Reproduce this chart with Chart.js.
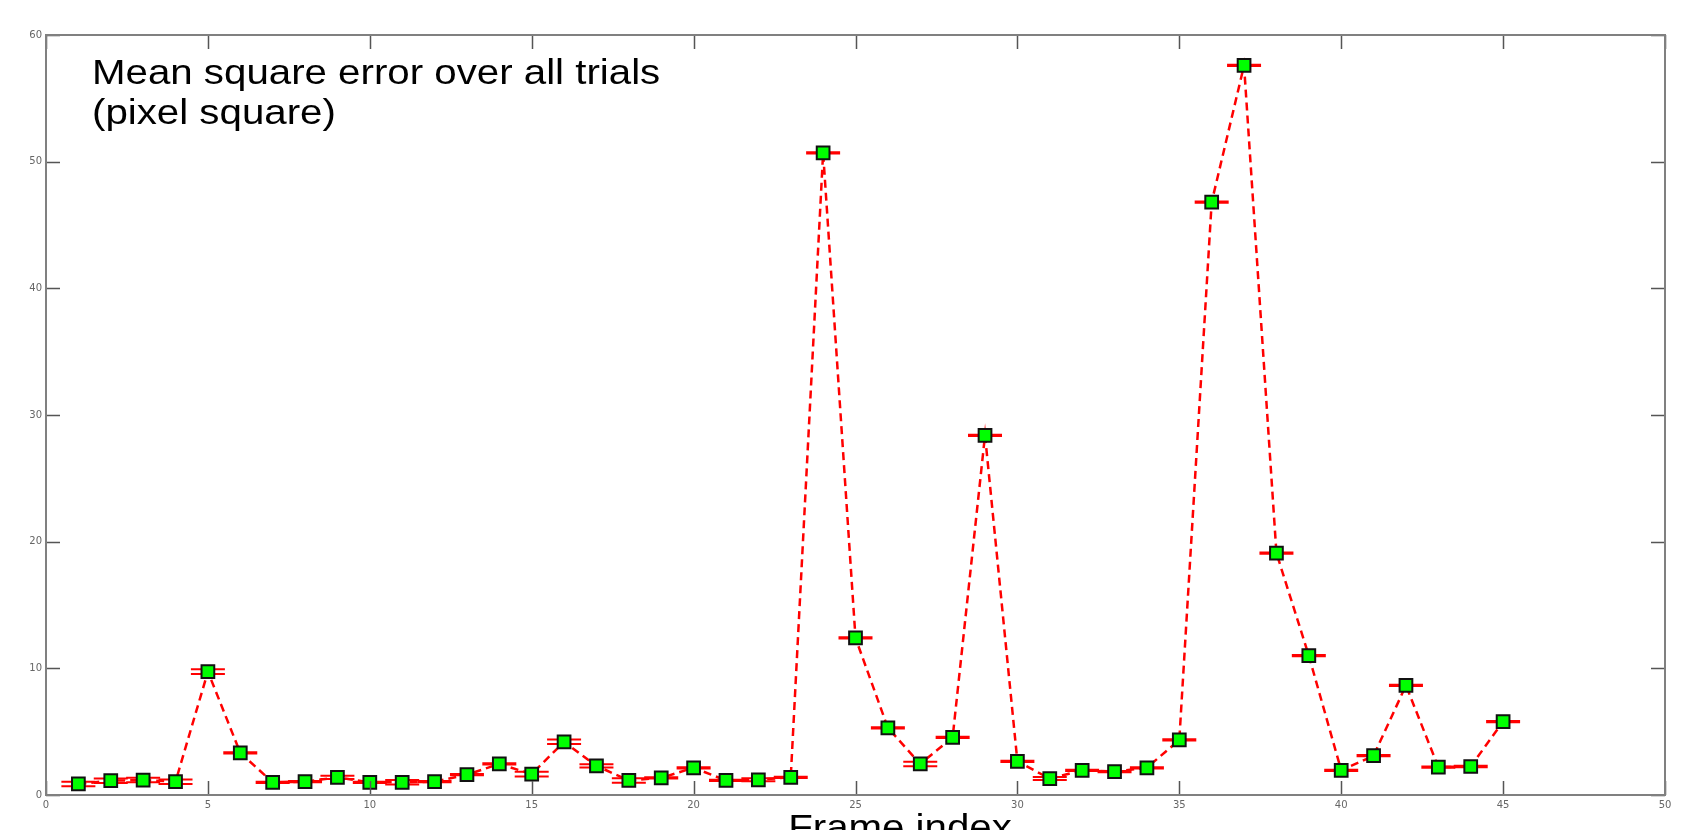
<!DOCTYPE html>
<html>
<head>
<meta charset="utf-8">
<script src="https://cdn.jsdelivr.net/npm/chart.js@4.4.1/dist/chart.umd.min.js"></script>
<style>
  html, body { margin: 0; padding: 0; background: #fff; }
  #wrap { width: 1697px; height: 830px; position: relative; }
</style>
</head>
<body>
<div id="wrap"><canvas id="chartCanvas"></canvas></div>
<script>
// --- data ---
const frames = [1, 2, 3, 4, 5, 6, 7, 8, 9, 10, 11, 12, 13, 14, 15, 16, 17, 18, 19, 20,
  21, 22, 23, 24, 25, 26, 27, 28, 29, 30, 31, 32, 33, 34, 35, 36, 37, 38, 39, 40,
  41, 42, 43, 44, 45];
const mse = [0.87, 1.13, 1.18, 1.05, 9.74, 3.33, 1.0, 1.05, 1.39, 1.0,
  1.0, 1.05, 1.6, 2.45, 1.65, 4.2, 2.3, 1.15, 1.35, 2.15,
  1.15, 1.2, 1.4, 50.7, 12.4, 5.3, 2.45, 4.55, 28.4, 2.65,
  1.3, 1.95, 1.85, 2.15, 4.35, 46.8, 57.6, 19.1, 11.0, 1.95,
  3.1, 8.65, 2.2, 2.25, 5.8];
// half-width of the error bar around each mean
const spread = [0.18, 0.18, 0.18, 0.18, 0.18, 0.05, 0.05, 0.05, 0.12, 0.05,
  0.18, 0.05, 0.05, 0.05, 0.18, 0.18, 0.12, 0.18, 0.05, 0.05,
  0.05, 0.12, 0.05, 0.05, 0.05, 0.05, 0.18, 0.05, 0.05, 0.05,
  0.12, 0.05, 0.05, 0.05, 0.05, 0.05, 0.05, 0.05, 0.05, 0.05,
  0.05, 0.05, 0.05, 0.05, 0.05];
const xRange = [0, 50];
const yRange = [0, 60];
const noteLines = ["Mean square error over all trials", "(pixel square)"];
const xLabel = "Frame index";

const points = frames.map((f, i) => ({ x: f, y: mse[i] }));

// --- error bars, box, inward ticks, text ---
const matlabLook = {
  id: "matlabLook",
  afterDatasetDraw(chart, args) {
    if (args.index !== 0) return;
    const { ctx, scales: { x, y } } = chart;
    ctx.save();
    ctx.strokeStyle = "#ff0000";
    ctx.lineWidth = 2;
    frames.forEach((f, i) => {
      const px = x.getPixelForValue(f);
      const top = y.getPixelForValue(mse[i] + spread[i]);
      const bot = y.getPixelForValue(mse[i] - spread[i]);
      ctx.beginPath();
      ctx.moveTo(px, top); ctx.lineTo(px, bot);
      ctx.moveTo(px - 17, top); ctx.lineTo(px + 17, top);
      ctx.moveTo(px - 17, bot); ctx.lineTo(px + 17, bot);
      ctx.stroke();
    });
    ctx.restore();
  },
  afterDraw(chart) {
    const { ctx, chartArea: a, scales: { x, y } } = chart;
    ctx.save();
    // inward ticks on all four sides
    ctx.strokeStyle = "#555";
    ctx.lineWidth = 1.5;
    ctx.beginPath();
    x.ticks.forEach(t => {
      const px = Math.round(x.getPixelForValue(t.value)) + 0.5;
      ctx.moveTo(px, a.bottom); ctx.lineTo(px, a.bottom - 14);
      ctx.moveTo(px, a.top); ctx.lineTo(px, a.top + 14);
    });
    y.ticks.forEach(t => {
      const py = Math.round(y.getPixelForValue(t.value)) + 0.5;
      ctx.moveTo(a.left, py); ctx.lineTo(a.left + 14, py);
      ctx.moveTo(a.right, py); ctx.lineTo(a.right - 14, py);
    });
    ctx.stroke();
    // axes box
    ctx.strokeStyle = "#808080";
    ctx.lineWidth = 2;
    ctx.strokeRect(a.left, a.top, a.right - a.left, a.bottom - a.top);

    // annotation and axis title (slightly wide, like the source)
    ctx.fillStyle = "#000";
    ctx.font = "35px 'Liberation Sans', Arial, sans-serif";
    ctx.textBaseline = "alphabetic";
    ctx.textAlign = "left";
    noteLines.forEach((line, i) => {
      ctx.save();
      ctx.translate(92, 84 + i * 40);
      ctx.scale(1.15, 1);
      ctx.fillText(line, 0, 0);
      ctx.restore();
    });
    ctx.save();
    ctx.translate(900, 839);
    ctx.scale(1.15, 1);
    ctx.textAlign = "center";
    ctx.fillText(xLabel, 0, 0);
    ctx.restore();
    ctx.restore();
  }
};

const canvas = document.getElementById("chartCanvas");
new Chart(canvas, {
  type: "line",
  data: {
    datasets: [
      {
        // dashed connecting line
        data: points,
        borderColor: "#ff0000",
        borderWidth: 2.5,
        borderDash: [8, 5],
        pointRadius: 0,
        tension: 0,
        fill: false,
        order: 2
      },
      {
        // square markers
        data: points,
        showLine: false,
        pointStyle: "rect",
        pointRadius: 9,
        pointBorderWidth: 2,
        pointBackgroundColor: "#00ff00",
        pointBorderColor: "#111",
        order: 1
      }
    ]
  },
  options: {
    responsive: true,
    maintainAspectRatio: false,
    animation: false,
    layout: { padding: { top: 35, right: 32, left: 0, bottom: 0 } },
    plugins: { legend: { display: false }, tooltip: { enabled: false } },
    scales: {
      x: {
        type: "linear",
        min: xRange[0],
        max: xRange[1],
        grid: { display: false, drawTicks: false },
        border: { display: false },
        ticks: {
          stepSize: 5,
          autoSkip: false,
          maxRotation: 0,
          padding: 4,
          color: "#666",
          font: { family: "'DejaVu Sans'", size: 10 }
        },
        afterFit(s) { s.height = 35; }
      },
      y: {
        type: "linear",
        min: yRange[0],
        max: yRange[1],
        grid: { display: false, drawTicks: false },
        border: { display: false },
        ticks: {
          stepSize: 10,
          padding: 4,
          color: "#666",
          font: { family: "'DejaVu Sans'", size: 10 }
        },
        afterFit(s) { s.width = 46; }
      }
    }
  },
  plugins: [matlabLook]
});
</script>
</body>
</html>
